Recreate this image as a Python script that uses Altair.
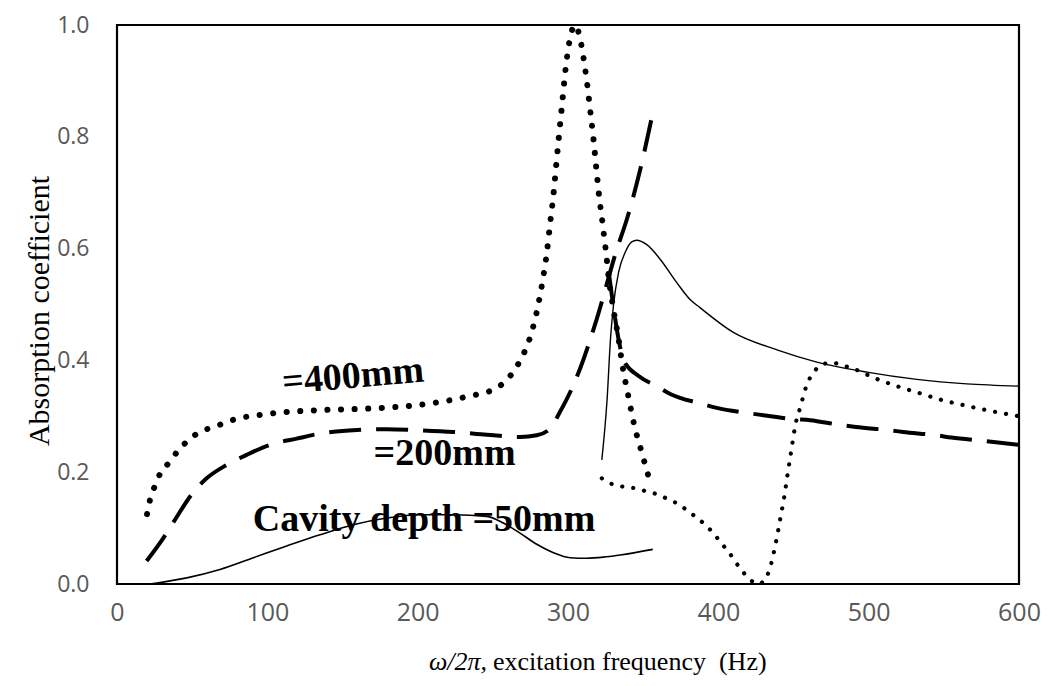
import altair as alt
import pandas as pd

# ---------------- data ----------------
# Cavity depth = 400 mm (dotted) - first branch
d400a_freq = [20, 22, 25, 29, 35, 41, 48, 55, 65, 73, 82, 94, 102, 134, 169, 200, 222, 236, 246,
              255, 261.5, 267, 271.5, 275, 279.7, 283.2, 286, 288.1, 290.3, 292.1, 293.9, 295.8,
              297.6, 299.9, 301.5, 304.7, 308, 309.8, 312.5, 314.7, 316.9, 318.7, 320.7, 323.1,
              325.3, 327.5, 330.2, 333.5, 336.4, 340.2, 344, 349.1, 354.2]
d400a_val = [0.125, 0.151, 0.174, 0.199, 0.218, 0.24, 0.258, 0.272, 0.281, 0.29, 0.297, 0.302, 0.305,
             0.311, 0.314, 0.32, 0.329, 0.337, 0.343,
             0.355, 0.372, 0.394, 0.418, 0.443, 0.493, 0.544, 0.594, 0.645, 0.696, 0.748, 0.799, 0.851,
             0.901, 0.953, 0.978, 1.0, 0.976, 0.95, 0.9, 0.849, 0.797, 0.747, 0.694, 0.643,
             0.593, 0.539, 0.492, 0.441, 0.388, 0.335, 0.285, 0.235, 0.186]
# Cavity depth = 400 mm (dotted) - second branch
d400b_freq = [322.5, 330, 337, 345, 353, 360, 367, 374, 380, 386, 392, 397, 402, 407, 411, 416, 421,
              426.7, 432.3, 435, 438.2, 441.1, 443.8, 446, 448.3, 450.7, 452.2, 454.4, 456.6, 458.9,
              462.6, 467.8, 475.5, 482.8, 490, 504.3, 518.7, 533.2, 547.6, 563.1, 578.6, 594, 600]
d400b_val = [0.189, 0.178, 0.174, 0.171, 0.165, 0.16, 0.151, 0.142, 0.13, 0.118, 0.104, 0.09, 0.073,
             0.057, 0.041, 0.023, 0.008, 0.0, 0.014, 0.035, 0.073, 0.115, 0.155, 0.195, 0.235, 0.276,
             0.296, 0.315, 0.337, 0.357, 0.375, 0.391, 0.396, 0.391, 0.385, 0.368, 0.354, 0.342,
             0.33, 0.32, 0.311, 0.303, 0.30]
# Cavity depth = 200 mm (dashed) - first branch
d200a_freq = [19.7, 30.8, 38.6, 49.6, 59.6, 72.9, 86.2, 101.8, 119.5, 135, 157.2, 179.4, 201.6, 223.8,
              246, 268.1, 279.2, 288.1, 294.7, 301.4, 308, 319.1, 332.4, 339.1, 348, 356.8]
d200a_val = [0.041, 0.082, 0.115, 0.16, 0.189, 0.213, 0.231, 0.249, 0.26, 0.269, 0.275, 0.277, 0.275,
             0.272, 0.267, 0.263, 0.266, 0.278, 0.308, 0.343, 0.385, 0.474, 0.598, 0.652, 0.741, 0.848]
# Cavity depth = 200 mm (dashed) - second branch
d200b_freq = [327, 330, 333.5, 337, 347, 359, 368, 388, 399, 419, 430, 450, 461, 480, 491.5, 514, 523,
              545, 555, 576, 600]
d200b_val = [0.56, 0.5, 0.44, 0.40, 0.372, 0.354, 0.34, 0.323, 0.315, 0.306, 0.302, 0.295, 0.293,
             0.285, 0.281, 0.275, 0.272, 0.266, 0.262, 0.256, 0.249]
# Cavity depth = 50 mm (solid) - first branch
d50a_freq = [22, 46.4, 68.5, 90.7, 112.9, 135, 157.2, 179.4, 201.6, 223.8, 246, 257, 268.1, 279.2,
             290.3, 301.4, 312.5, 323.6, 334.7, 356.4]
d50a_val = [0.0, 0.011, 0.026, 0.047, 0.068, 0.088, 0.106, 0.118, 0.124, 0.124, 0.121, 0.109, 0.091,
            0.071, 0.056, 0.047, 0.046, 0.048, 0.052, 0.062]
# Cavity depth = 50 mm (solid) - second branch
d50b_freq = [322.5, 326, 328.3, 330.3, 333.6, 338, 342.4, 345.7, 352.4, 361.3, 372.4, 381.2, 388, 410,
             440, 465.5, 498.8, 532, 565.3, 600]
d50b_val = [0.222, 0.33, 0.44, 0.5, 0.557, 0.593, 0.612, 0.615, 0.607, 0.581, 0.539, 0.509, 0.494,
            0.45, 0.418, 0.397, 0.379, 0.366, 0.358, 0.354]

# annotations (data coordinates)
label_text = ["=400mm", "=200mm", "Cavity depth =50mm"]
label_freq = [157.7, 217.9, 204.3]
label_val = [0.351, 0.213, 0.094]
label_angle = [355, 0, 0]

x_ticks = [0, 100, 200, 300, 400, 500, 600]
y_ticks = [0.0, 0.2, 0.4, 0.6, 0.8, 1.0]

W, H = 902, 559

segments = [
    (d400a_freq, d400a_val, dict(strokeWidth=6, strokeDash=[0.1, 13.5], strokeCap="round")),
    (d400b_freq, d400b_val, dict(strokeWidth=4.2, strokeDash=[0.1, 11], strokeCap="round")),
    (d200a_freq, d200a_val, dict(strokeWidth=4, strokeDash=[32, 15], strokeCap="butt")),
    (d200b_freq, d200b_val, dict(strokeWidth=4, strokeDash=[32, 15], strokeCap="butt")),
    (d50a_freq, d50a_val, dict(strokeWidth=1.6)),
    (d50b_freq, d50b_val, dict(strokeWidth=1.4)),
]

x_enc = alt.X("freq:Q", scale=alt.Scale(domain=[0, 600], nice=False, zero=False),
              axis=alt.Axis(values=x_ticks, title=None, grid=False, ticks=False, domain=False,
                            labelFont="Open Sans", labelFontSize=25, labelColor="#595959",
                            labelPadding=16, labelFlush=False))
y_enc = alt.Y("alpha:Q", scale=alt.Scale(domain=[0, 1], nice=False),
              axis=alt.Axis(values=y_ticks, format=".1f", title=None, grid=False, ticks=False,
                            domain=False, labelFont="Open Sans", labelFontSize=23,
                            labelColor="#595959", labelPadding=28, labelFlush=False))

layers = []
for fr, va, props in segments:
    df = pd.DataFrame({"freq": fr, "alpha": va, "ord": list(range(len(fr)))})
    layers.append(
        alt.Chart(df).mark_line(color="black", interpolate="monotone", **props).encode(
            x=x_enc, y=y_enc, order="ord:Q")
    )

lab_df = pd.DataFrame({"txt": label_text, "freq": label_freq, "alpha": label_val, "ang": label_angle})
for i in range(len(label_text)):
    sub = lab_df.iloc[[i]]
    layers.append(
        alt.Chart(sub).mark_text(font="Liberation Serif", fontWeight="bold", fontSize=38,
                                 color="black", align="center", baseline="alphabetic",
                                 angle=int(label_angle[i])).encode(
            x="freq:Q", y="alpha:Q", text="txt:N")
    )

# axis titles as text
title_df = pd.DataFrame({"t": ["ω/2π,"]})
layers.append(
    alt.Chart(title_df).mark_text(font="Liberation Serif", fontStyle="italic", fontSize=26,
                                  color="black", align="right", baseline="alphabetic").encode(
        x=alt.value(370), y=alt.value(645), text="t:N")
)
title_df2 = pd.DataFrame({"t": ["excitation frequency\u00a0\u00a0(Hz)"]})
layers.append(
    alt.Chart(title_df2).mark_text(font="Liberation Serif", fontSize=26, color="black",
                                   align="left", baseline="alphabetic").encode(
        x=alt.value(376), y=alt.value(645), text="t:N")
)
title_df3 = pd.DataFrame({"t": ["Absorption coefficient"]})
layers.append(
    alt.Chart(title_df3).mark_text(font="Liberation Serif", fontSize=30, color="black",
                                   align="center", baseline="middle", angle=270).encode(
        x=alt.value(-77), y=alt.value(286), text="t:N")
)

chart = alt.layer(*layers).properties(
    width=W, height=H,
    autosize=alt.AutoSizeParams(type="none"),
    padding={"left": 109, "top": 17, "right": 36, "bottom": 94},
    background="white",
).configure_view(stroke="black", strokeWidth=2.2)

chart.save("out.html", embed_options={"renderer": "svg", "actions": False})
